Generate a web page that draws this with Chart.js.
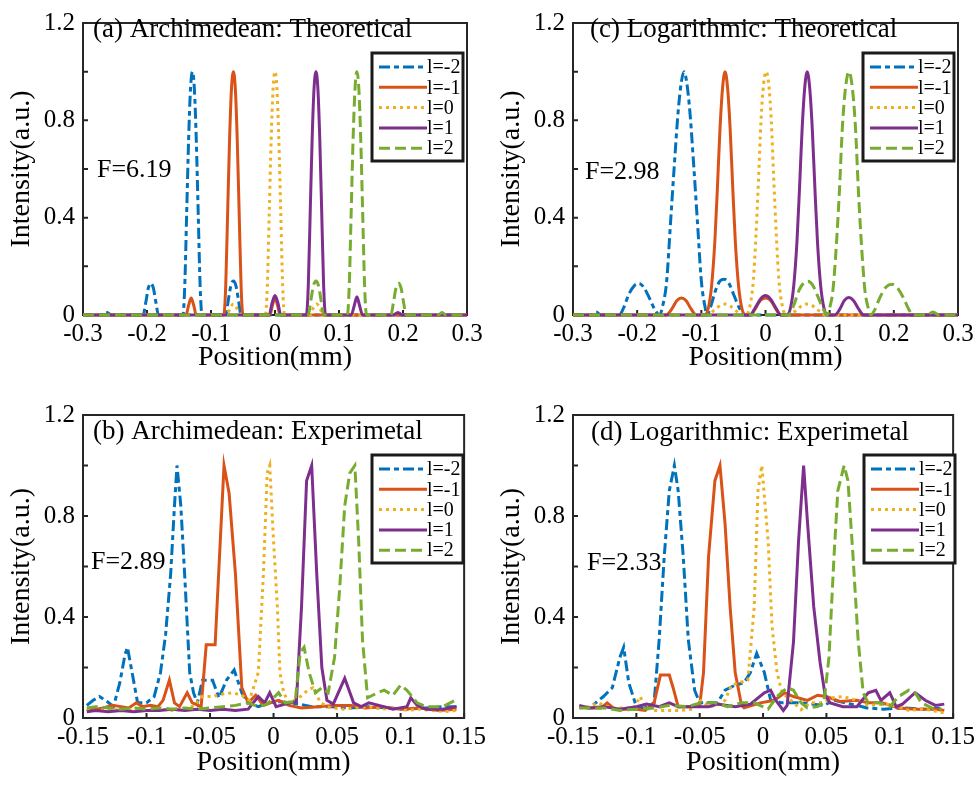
<!DOCTYPE html>
<html>
<head>
<meta charset="utf-8">
<script src="https://cdn.jsdelivr.net/npm/chart.js@4.4.0/dist/chart.umd.min.js"></script>
<style>
  body { margin: 0; background: #fff; width: 979px; height: 789px; position: relative; overflow: hidden; }
  canvas { position: absolute; }
</style>
</head>
<body>
<canvas id="pa" width="490" height="390" style="left:0;top:0"></canvas>
<canvas id="pc" width="489" height="390" style="left:490px;top:0"></canvas>
<canvas id="pb" width="490" height="399" style="left:0;top:390px"></canvas>
<canvas id="pd" width="489" height="399" style="left:490px;top:390px"></canvas>
<script>
// legend labels (topological charge l)
const seriesNames = ["l=-2", "l=-1", "l=0", "l=1", "l=2"];
const yTicks = [0, 0.4, 0.8, 1.2];

// (a) Archimedean, theoretical  [position mm, intensity]
const aM2 = [[-0.3,0],[-0.268,0],[-0.262,0.01],[-0.256,0],[-0.206,0],[-0.202,0.05],[-0.198,0.11],[-0.194,0.13],[-0.19,0.11],[-0.186,0.05],[-0.182,0],
  [-0.144,0],[-0.141,0.12],[-0.138,0.42],[-0.135,0.72],[-0.132,0.93],[-0.129,1],[-0.126,0.93],[-0.123,0.72],[-0.12,0.42],[-0.117,0.12],[-0.114,0],
  [-0.077,0],[-0.073,0.06],[-0.069,0.12],[-0.065,0.14],[-0.061,0.12],[-0.057,0.06],[-0.053,0],[0.3,0]];
const aM1 = [[-0.3,0],[-0.139,0],[-0.135,0.04],[-0.131,0.07],[-0.127,0.04],[-0.123,0],
  [-0.08,0],[-0.077,0.12],[-0.074,0.42],[-0.071,0.72],[-0.068,0.93],[-0.065,1],[-0.062,0.93],[-0.059,0.72],[-0.056,0.42],[-0.053,0.12],[-0.05,0],
  [-0.008,0],[-0.004,0.04],[0,0.07],[0.004,0.04],[0.008,0],[0.3,0]];
const a0 = [[-0.3,0],[-0.075,0],[-0.07,0.03],[-0.065,0.045],[-0.06,0.03],[-0.055,0],
  [-0.015,0],[-0.012,0.12],[-0.009,0.42],[-0.006,0.72],[-0.003,0.93],[0,1],[0.003,0.93],[0.006,0.72],[0.009,0.42],[0.012,0.12],[0.015,0],
  [0.055,0],[0.06,0.03],[0.065,0.045],[0.07,0.03],[0.075,0],[0.3,0]];
const aP1 = [[-0.3,0],[-0.009,0],[-0.005,0.045],[0,0.08],[0.005,0.045],[0.009,0],
  [0.049,0],[0.052,0.12],[0.055,0.42],[0.058,0.72],[0.061,0.93],[0.064,1],[0.067,0.93],[0.07,0.72],[0.073,0.42],[0.076,0.12],[0.079,0],
  [0.119,0],[0.124,0.04],[0.128,0.075],[0.132,0.04],[0.137,0],[0.185,0],[0.192,0.01],[0.199,0],[0.3,0]];
const aP2 = [[-0.3,0],[0.052,0],[0.056,0.06],[0.06,0.12],[0.064,0.14],[0.068,0.12],[0.072,0.06],[0.076,0],
  [0.113,0],[0.116,0.12],[0.119,0.42],[0.122,0.72],[0.125,0.93],[0.128,1],[0.131,0.93],[0.134,0.72],[0.137,0.42],[0.14,0.12],[0.143,0],
  [0.181,0],[0.185,0.05],[0.189,0.11],[0.193,0.13],[0.197,0.11],[0.201,0.05],[0.205,0],[0.255,0],[0.261,0.01],[0.267,0],[0.3,0]];

// (c) Logarithmic, theoretical
const cM2 = [[-0.3,0],[-0.272,0],[-0.264,0.012],[-0.256,0],[-0.228,0],
  [-0.221,0.03],[-0.213,0.085],[-0.204,0.122],[-0.197,0.13],[-0.19,0.115],[-0.181,0.07],[-0.172,0.02],[-0.165,0],
  [-0.16,0.04],[-0.154,0.14],[-0.148,0.38],[-0.142,0.62],[-0.136,0.84],[-0.131,0.96],[-0.127,1],[-0.123,0.96],[-0.118,0.84],[-0.112,0.62],[-0.106,0.38],[-0.1,0.14],[-0.094,0.03],[-0.091,0],
  [-0.086,0.03],[-0.078,0.1],[-0.071,0.14],[-0.064,0.147],[-0.057,0.13],[-0.049,0.08],[-0.041,0.03],[-0.033,0],[0.3,0]];
const cM1 = [[-0.3,0],[-0.155,0],[-0.146,0.025],[-0.138,0.06],[-0.131,0.07],[-0.124,0.06],[-0.116,0.025],[-0.108,0],
  [-0.094,0],[-0.089,0.03],[-0.084,0.12],[-0.079,0.3],[-0.075,0.52],[-0.071,0.76],[-0.067,0.93],[-0.063,1],[-0.059,0.93],[-0.055,0.76],[-0.051,0.52],[-0.047,0.3],[-0.042,0.12],[-0.037,0.03],[-0.032,0],
  [-0.024,0],[-0.016,0.025],[-0.008,0.06],[0,0.07],[0.008,0.06],[0.016,0.025],[0.024,0],[0.3,0]];
const c0 = [[-0.3,0],[-0.09,0],[-0.08,0.02],[-0.07,0.04],[-0.062,0.045],[-0.054,0.035],[-0.045,0.015],[-0.036,0],
  [-0.03,0],[-0.024,0.04],[-0.019,0.14],[-0.015,0.32],[-0.011,0.55],[-0.007,0.8],[-0.003,0.95],[0.001,1],[0.005,0.95],[0.009,0.8],[0.013,0.55],[0.017,0.32],[0.021,0.14],[0.026,0.04],[0.032,0],
  [0.046,0.015],[0.055,0.035],[0.064,0.045],[0.072,0.04],[0.082,0.02],[0.092,0],[0.3,0]];
const cP1 = [[-0.3,0],[-0.024,0],[-0.016,0.03],[-0.008,0.065],[0,0.08],[0.008,0.065],[0.016,0.03],[0.024,0],
  [0.034,0],[0.039,0.03],[0.044,0.12],[0.049,0.3],[0.053,0.52],[0.057,0.76],[0.061,0.93],[0.065,1],[0.069,0.93],[0.073,0.76],[0.077,0.52],[0.081,0.3],[0.086,0.12],[0.091,0.03],[0.096,0],
  [0.108,0],[0.116,0.025],[0.123,0.06],[0.13,0.072],[0.137,0.06],[0.145,0.025],[0.153,0],[0.3,0]];
const cP2 = [[-0.3,0],[0.036,0],[0.044,0.04],[0.052,0.1],[0.059,0.13],[0.066,0.139],[0.073,0.125],[0.081,0.08],[0.089,0.03],[0.096,0],
  [0.1,0.03],[0.105,0.1],[0.11,0.27],[0.115,0.5],[0.12,0.78],[0.125,0.94],[0.13,1],[0.135,0.94],[0.14,0.78],[0.145,0.5],[0.15,0.27],[0.155,0.1],[0.16,0.03],[0.164,0],
  [0.17,0.02],[0.178,0.07],[0.188,0.115],[0.197,0.126],[0.206,0.11],[0.215,0.07],[0.223,0.025],[0.23,0],[0.252,0],[0.261,0.012],[0.27,0],[0.3,0]];

// (b) Archimedean, experimental
const bM2 = [[-0.147,0.05],[-0.142,0.07],[-0.137,0.085],[-0.131,0.065],[-0.126,0.045],[-0.121,0.14],[-0.117,0.25],[-0.115,0.28],[-0.111,0.17],[-0.107,0.06],[-0.1,0.06],
  [-0.094,0.085],[-0.089,0.18],[-0.085,0.33],[-0.081,0.57],[-0.078,0.84],[-0.076,1],[-0.073,0.84],[-0.07,0.57],[-0.066,0.18],[-0.063,0.1],[-0.06,0.06],
  [-0.056,0.15],[-0.048,0.15],[-0.043,0.08],[-0.037,0.15],[-0.031,0.19],[-0.025,0.1],[-0.02,0.06],[-0.012,0.045],[-0.004,0.06],[0.004,0.065],[0.012,0.06],
  [0.02,0.055],[0.03,0.045],[0.045,0.045],[0.06,0.04],[0.075,0.045],[0.09,0.04],[0.105,0.035],[0.12,0.04],[0.135,0.045],[0.144,0.045]];
const bM1 = [[-0.147,0.03],[-0.14,0.035],[-0.134,0.04],[-0.127,0.05],[-0.12,0.045],[-0.114,0.04],[-0.108,0.06],[-0.103,0.045],[-0.097,0.05],[-0.091,0.045],
  [-0.087,0.07],[-0.082,0.15],[-0.078,0.06],[-0.074,0.045],[-0.068,0.1],[-0.064,0.06],[-0.057,0.045],[-0.053,0.29],[-0.046,0.29],[-0.039,1],[-0.035,0.89],
  [-0.03,0.57],[-0.025,0.12],[-0.02,0.06],[-0.014,0.09],[-0.008,0.05],[0,0.065],[0.004,0.07],[0.012,0.05],[0.022,0.04],[0.035,0.045],[0.048,0.05],
  [0.061,0.05],[0.072,0.04],[0.085,0.045],[0.1,0.035],[0.115,0.04],[0.13,0.03],[0.144,0.035]];
const b0 = [[-0.147,0.035],[-0.14,0.03],[-0.13,0.035],[-0.12,0.03],[-0.11,0.035],[-0.1,0.03],[-0.09,0.035],[-0.08,0.03],[-0.07,0.035],[-0.062,0.05],
  [-0.056,0.085],[-0.048,0.085],[-0.04,0.095],[-0.032,0.1],[-0.025,0.09],[-0.019,0.07],[-0.012,0.18],[-0.008,0.57],[-0.005,0.97],[-0.003,1],[0,0.7],
  [0.003,0.44],[0.005,0.18],[0.008,0.1],[0.012,0.06],[0.02,0.08],[0.027,0.11],[0.031,0.12],[0.037,0.06],[0.045,0.04],[0.055,0.035],[0.065,0.04],
  [0.075,0.045],[0.085,0.035],[0.095,0.04],[0.105,0.03],[0.115,0.035],[0.125,0.03],[0.135,0.025],[0.144,0.03]];
const bP1 = [[-0.147,0.025],[-0.14,0.03],[-0.13,0.025],[-0.12,0.03],[-0.11,0.025],[-0.1,0.03],[-0.09,0.03],[-0.08,0.035],[-0.07,0.03],[-0.06,0.035],
  [-0.05,0.03],[-0.04,0.035],[-0.03,0.03],[-0.02,0.035],[-0.012,0.085],[-0.007,0.06],[-0.003,0.1],[0.002,0.045],[0.009,0.055],[0.018,0.065],
  [0.022,0.44],[0.026,0.94],[0.03,1],[0.034,0.57],[0.038,0.2],[0.042,0.07],[0.047,0.055],[0.056,0.157],[0.063,0.06],[0.069,0.045],[0.075,0.06],
  [0.083,0.05],[0.094,0.035],[0.105,0.045],[0.108,0.08],[0.113,0.05],[0.12,0.035],[0.133,0.035],[0.144,0.045]];
const bP2 = [[-0.147,0.04],[-0.14,0.045],[-0.13,0.04],[-0.12,0.035],[-0.11,0.04],[-0.1,0.035],[-0.09,0.04],[-0.08,0.035],[-0.07,0.04],[-0.06,0.035],
  [-0.05,0.04],[-0.04,0.045],[-0.03,0.05],[-0.02,0.06],[-0.012,0.045],[-0.005,0.055],[0.004,0.1],[0.009,0.06],[0.017,0.065],[0.021,0.26],[0.024,0.28],
  [0.028,0.18],[0.033,0.1],[0.038,0.12],[0.043,0.1],[0.048,0.24],[0.052,0.51],[0.056,0.84],[0.06,0.97],[0.064,1],[0.067,0.7],[0.07,0.31],[0.074,0.08],
  [0.082,0.1],[0.087,0.11],[0.094,0.09],[0.1,0.13],[0.105,0.11],[0.113,0.06],[0.12,0.045],[0.133,0.045],[0.143,0.07]];

// (d) Logarithmic, experimental
const dM2 = [[-0.145,0.045],[-0.137,0.04],[-0.126,0.085],[-0.119,0.12],[-0.113,0.24],[-0.11,0.28],[-0.106,0.14],[-0.1,0.045],[-0.093,0.04],[-0.086,0.06],
  [-0.082,0.31],[-0.078,0.64],[-0.074,0.9],[-0.07,1],[-0.067,0.9],[-0.063,0.64],[-0.059,0.31],[-0.054,0.11],[-0.05,0.06],[-0.043,0.06],[-0.036,0.06],
  [-0.03,0.11],[-0.022,0.13],[-0.015,0.14],[-0.01,0.18],[-0.005,0.256],[0.001,0.18],[0.006,0.07],[0.015,0.06],[0.03,0.06],[0.048,0.05],[0.056,0.07],
  [0.074,0.05],[0.082,0.04],[0.095,0.035],[0.11,0.04],[0.125,0.035],[0.143,0.04]];
const dM1 = [[-0.145,0.045],[-0.137,0.04],[-0.128,0.04],[-0.123,0.06],[-0.117,0.035],[-0.11,0.035],[-0.1,0.035],[-0.093,0.03],[-0.086,0.06],[-0.081,0.17],
  [-0.074,0.17],[-0.071,0.12],[-0.067,0.045],[-0.059,0.045],[-0.05,0.05],[-0.047,0.18],[-0.043,0.64],[-0.038,0.94],[-0.034,1],[-0.03,0.77],[-0.026,0.44],
  [-0.022,0.18],[-0.017,0.05],[-0.015,0.04],[-0.002,0.06],[0.009,0.07],[0.017,0.1],[0.024,0.085],[0.035,0.07],[0.043,0.09],[0.05,0.085],[0.061,0.065],
  [0.074,0.07],[0.083,0.06],[0.094,0.06],[0.107,0.04],[0.12,0.035],[0.136,0.035],[0.143,0.03]];
const d0 = [[-0.145,0.04],[-0.137,0.045],[-0.13,0.06],[-0.12,0.04],[-0.113,0.04],[-0.102,0.04],[-0.097,0.085],[-0.093,0.04],[-0.085,0.03],[-0.075,0.03],
  [-0.065,0.03],[-0.055,0.035],[-0.049,0.07],[-0.043,0.045],[-0.036,0.05],[-0.03,0.07],[-0.025,0.13],[-0.019,0.14],[-0.012,0.15],[-0.007,0.44],
  [-0.004,0.9],[-0.001,1],[0.004,0.7],[0.007,0.37],[0.011,0.18],[0.015,0.1],[0.022,0.07],[0.03,0.033],[0.037,0.06],[0.048,0.06],[0.055,0.08],
  [0.063,0.085],[0.074,0.07],[0.083,0.05],[0.097,0.055],[0.107,0.045],[0.115,0.03],[0.128,0.035],[0.143,0.02]];
const dP1 = [[-0.145,0.05],[-0.137,0.04],[-0.126,0.045],[-0.113,0.035],[-0.1,0.045],[-0.092,0.055],[-0.082,0.045],[-0.074,0.06],[-0.067,0.045],
  [-0.055,0.045],[-0.043,0.045],[-0.036,0.055],[-0.022,0.045],[-0.01,0.055],[0.001,0.1],[0.006,0.11],[0.01,0.07],[0.016,0.03],[0.019,0.05],
  [0.024,0.3],[0.028,0.7],[0.032,1],[0.035,0.78],[0.04,0.44],[0.045,0.22],[0.049,0.09],[0.053,0.06],[0.063,0.045],[0.074,0.045],[0.083,0.1],
  [0.089,0.11],[0.093,0.07],[0.1,0.1],[0.105,0.045],[0.11,0.055],[0.12,0.1],[0.128,0.07],[0.136,0.05],[0.143,0.055]];
const dP2 = [[-0.145,0.04],[-0.137,0.04],[-0.126,0.04],[-0.113,0.03],[-0.1,0.035],[-0.085,0.04],[-0.074,0.05],[-0.06,0.045],[-0.049,0.06],[-0.038,0.06],
  [-0.028,0.045],[-0.017,0.06],[-0.007,0.06],[0.004,0.035],[0.011,0.085],[0.019,0.12],[0.024,0.11],[0.03,0.06],[0.035,0.04],[0.043,0.045],[0.048,0.06],
  [0.052,0.24],[0.056,0.64],[0.059,0.9],[0.064,1],[0.067,0.94],[0.071,0.64],[0.075,0.31],[0.079,0.1],[0.083,0.06],[0.092,0.06],[0.1,0.045],[0.107,0.085],
  [0.115,0.11],[0.12,0.1],[0.125,0.06],[0.133,0.04],[0.141,0.035]];

const colors = ["#0072BD", "#D95319", "#EDB120", "#7E2F8E", "#77AC30"];
const dashes = [[11, 4, 5, 4], [], [3, 4], [], [11, 5]];
const serif = "'Liberation Serif', 'Times New Roman', serif";

// axes box and inward ticks go under the curves, texts and legend box on top
const decor = {
  id: "decor",
  beforeDatasetsDraw(chart) {
    const { ctx, chartArea: a, scales } = chart;
    ctx.save();
    ctx.strokeStyle = "#262626";
    ctx.lineWidth = 2;
    ctx.beginPath();
    scales.x.ticks.forEach(t => {
      const px = scales.x.getPixelForValue(t.value);
      ctx.moveTo(px, a.bottom); ctx.lineTo(px, a.bottom - 5);
    });
    scales.y.ticks.forEach(t => {
      const py = scales.y.getPixelForValue(t.value);
      ctx.moveTo(a.left, py); ctx.lineTo(a.left + 5, py);
    });
    ctx.stroke();
    ctx.strokeRect(a.left, a.top, a.right - a.left, a.bottom - a.top);
    ctx.restore();
  },
  afterDatasetsDraw(chart, args, o) {
    const ctx = chart.ctx;
    ctx.save();
    ctx.fillStyle = "#000";
    ctx.textBaseline = "middle";
    ctx.font = "27px " + serif;
    ctx.fillText(o.title, o.titleAt[0], o.titleAt[1]);
    ctx.font = "26px " + serif;
    ctx.fillText(o.fText, o.fAt[0], o.fAt[1]);

    const [lx, ly] = o.legendAt;
    ctx.fillStyle = "#fff";
    ctx.fillRect(lx, ly, 91, 108);
    ctx.lineWidth = 3;
    ctx.strokeStyle = "#1a1a1a";
    ctx.strokeRect(lx, ly, 91, 108);
    ctx.font = "20px " + serif;
    chart.data.datasets.forEach((ds, i) => {
      const y = ly + 14 + i * 20.3;
      ctx.strokeStyle = ds.borderColor;
      ctx.lineWidth = ds.borderWidth;
      ctx.setLineDash(ds.borderDash);
      ctx.beginPath(); ctx.moveTo(lx + 7, y); ctx.lineTo(lx + 55, y); ctx.stroke();
      ctx.setLineDash([]);
      ctx.fillStyle = "#000";
      ctx.fillText(ds.label, lx + 55, y + 1);
    });
    ctx.restore();
  }
};

function makePanel(p) {
  new Chart(document.getElementById(p.id), {
    type: "line",
    data: {
      datasets: p.series.map((s, i) => ({
        label: seriesNames[i],
        data: s.map(([x, y]) => ({ x, y })),
        borderColor: colors[i],
        borderDash: dashes[i],
        borderWidth: 3,
        pointRadius: 0,
        fill: false,
        clip: 3,
        order: 4 - i,
        cubicInterpolationMode: p.smooth ? "monotone" : "default",
        tension: 0
      }))
    },
    options: {
      responsive: false,
      animation: false,
      events: [],
      layout: { padding: { top: p.top, right: p.right, left: 0, bottom: 0 } },
      scales: {
        x: {
          type: "linear", min: p.xMin, max: p.xMax,
          afterFit: s => { s.height = p.xAxisH; },
          grid: { display: false, drawTicks: false },
          border: { display: false },
          ticks: {
            stepSize: p.xStep, autoSkip: false, maxRotation: 0, padding: 4,
            color: "#000", font: { family: serif, size: 25 },
            callback: v => String(Number(v.toFixed(3)))
          },
          title: { display: true, text: "Position(mm)", color: "#000", font: { family: serif, size: 28 }, padding: { top: 0, bottom: p.xTitlePad } }
        },
        y: {
          min: 0, max: 1.2,
          afterFit: s => { s.width = 83; },
          grid: { display: false, drawTicks: false },
          border: { display: false },
          ticks: {
            stepSize: 0.2, padding: 8, color: "#000", font: { family: serif, size: 25 },
            callback: v => yTicks.some(t => Math.abs(t - v) < 1e-6) ? String(Number(v.toFixed(1))) : ""
          },
          title: { display: true, text: "Intensity(a.u.)", color: "#000", font: { family: serif, size: 28 }, padding: { top: 5, bottom: 0 } }
        }
      },
      plugins: {
        legend: { display: false },
        tooltip: { enabled: false },
        decor: { title: p.title, titleAt: p.titleAt, fText: p.fText, fAt: p.fAt, legendAt: p.legendAt }
      }
    },
    plugins: [decor]
  });
}

[
  { id: "pa", series: [aM2, aM1, a0, aP1, aP2], smooth: true, xMin: -0.3, xMax: 0.3, xStep: 0.1,
    top: 13, right: 23, xAxisH: 75, xTitlePad: 16,
    title: "(a) Archimedean: Theoretical", titleAt: [93, 30], fText: "F=6.19", fAt: [97, 170], legendAt: [372, 53] },
  { id: "pc", series: [cM2, cM1, c0, cP1, cP2], smooth: true, xMin: -0.3, xMax: 0.3, xStep: 0.1,
    top: 13, right: 21, xAxisH: 75, xTitlePad: 16,
    title: "(c) Logarithmic: Theoretical", titleAt: [100, 30], fText: "F=2.98", fAt: [95, 172], legendAt: [373, 53] },
  { id: "pb", series: [bM2, bM1, b0, bP1, bP2], smooth: false, xMin: -0.15, xMax: 0.15, xStep: 0.05,
    top: 25, right: 23, xAxisH: 71, xTitlePad: 10,
    title: "(b) Archimedean: Experimetal", titleAt: [93, 42], fText: "F=2.89", fAt: [91, 172], legendAt: [372, 65] },
  { id: "pd", series: [dM2, dM1, d0, dP1, dP2], smooth: false, xMin: -0.15, xMax: 0.15, xStep: 0.05,
    top: 25, right: 21, xAxisH: 71, xTitlePad: 10,
    title: "(d) Logarithmic: Experimetal", titleAt: [101, 43], fText: "F=2.33", fAt: [97, 173], legendAt: [374, 65] }
].forEach(makePanel);
</script>
</body>
</html>
